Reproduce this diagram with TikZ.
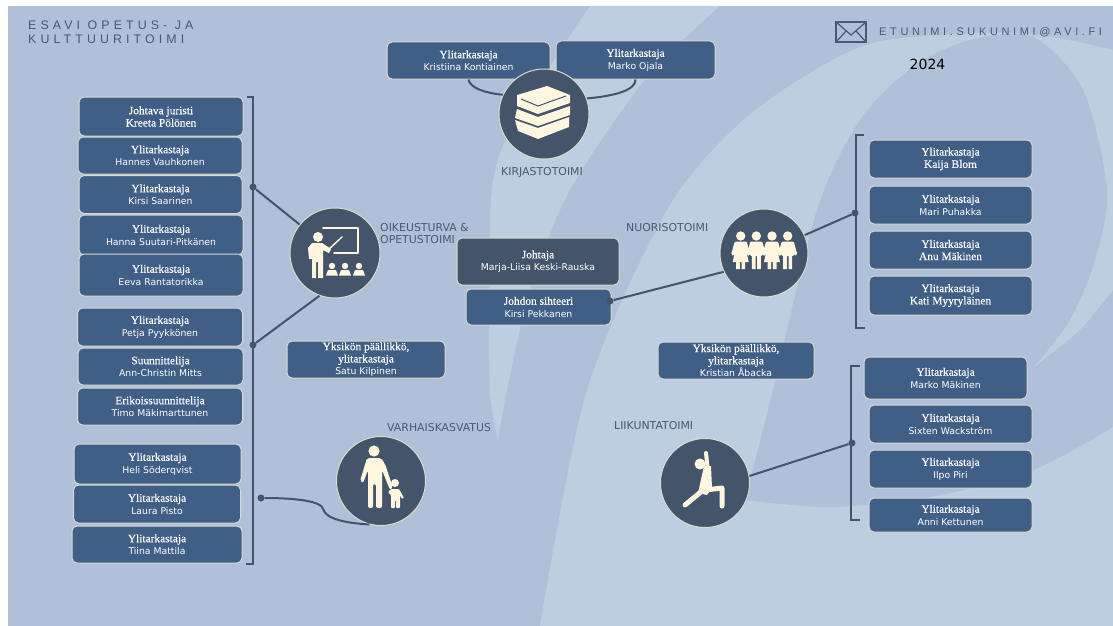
\documentclass[tikz,border=0pt]{standalone}
\usepackage{fontspec}
\setmainfont[FakeBold=0.25]{Liberation Serif}
\newfontfamily\nimifont{DejaVu Sans}
\newfontfamily\otsakefont{Liberation Sans}

\definecolor{pohja}{HTML}{AFC0D8}
\definecolor{vaalea}{HTML}{BDCEE1}
\definecolor{tumma}{HTML}{44546A}
\definecolor{sininen}{HTML}{3F5F86}
\definecolor{reuna}{HTML}{D9DAD0}
\definecolor{kerma}{HTML}{FFF6E0}
\definecolor{harmaa}{HTML}{4B5872}

\newcommand{\nimi}{\nimifont\fontsize{9.3}{12.3}\selectfont}
\newcommand{\sarja}{\fontsize{11.4}{12.3}\selectfont}

\tikzset{
	laatikko/.style 2 args={draw=reuna, fill=sininen, rounded corners=5pt, line width=1pt, inner sep=0pt,
		align=center, text=white, font=\sarja, minimum width=#1pt, minimum height=#2pt},
	ympyra/.style={circle, draw=reuna, fill=tumma, line width=1pt, minimum size=#1pt, inner sep=0pt},
	haara/.style={draw=tumma, line width=2pt},
	piste/.style={circle, fill=tumma, inner sep=0pt, minimum size=7pt},
	otsake/.style={text=harmaa, font=\nimifont\fontsize{10.9}{12.5}\selectfont, align=left, inner sep=0pt},
	kuva/.style={fill=kerma, draw=none},
	viiva/.style={draw=kerma, line cap=round, line join=round}
}

\begin{document}
\begin{tikzpicture}[x=1pt, y=-1pt]
	\useasboundingbox (0,0) rectangle (1113,626);

	% tausta
	\fill[pohja] (8,6) rectangle (1113,626);
	\begin{scope}
		\clip (8,6) rectangle (1113,626);
		\fill[vaalea] plot[smooth] coordinates {(590,6) (500,153) (490,270) (490,390) (498,440)}
			-- plot[smooth] coordinates {(498,440) (507,390) (530,290) (570,190) (647,77) (720,6)} -- cycle;
		\fill[vaalea] plot[smooth] coordinates {(540,626) (587,390) (667,210) (740,123) (820,67) (887,40) (1020,33) (1113,50)}
			-- (1113,626) -- cycle;
		\fill[pohja] plot[smooth] coordinates {(745,500) (773,390) (817,210) (860,120) (913,67) (970,40) (1033,37) (1083,90) (1107,190) (1095,260) (1070,320) (1033,368)}
			-- plot[smooth] coordinates {(1033,368) (1080,330) (1113,290)}
			-- (1113,427) -- plot[smooth] coordinates {(1113,427) (1033,470) (930,497) (830,507) (745,500)} -- cycle;
	\end{scope}

	% otsikot
	\node[anchor=north west, text=harmaa, inner sep=0pt, align=left, font=\otsakefont\addfontfeature{LetterSpace=33}\fontsize{12.4}{14}\selectfont] (yksikko) at (28,21) {ESAVI OPETUS- JA\\KULTTUURITOIMI};
	\node[anchor=west, text=harmaa, inner sep=0pt, font=\otsakefont\addfontfeature{LetterSpace=33}\fontsize{11}{14}\selectfont] (sposti) at (879,32) {ETUNIMI.SUKUNIMI@AVI.FI};
	\node[text=black, inner sep=0pt, font=\nimifont\fontsize{14}{15}\selectfont] (vuosi) at (927.5,64) {2024};
	\draw[harmaa, line width=2pt] (836,22) rectangle (866,42);
	\draw[harmaa, line width=1.2pt] (836,22) -- (851,35) -- (866,22) (836,42) -- (846,31) (866,42) -- (856,31);

	% oikeusturva ja varhaiskasvatus
	\node[laatikko={164}{39}] (polonen) at (161,116.5) {Johtava juristi\\Kreeta Pölönen};
	\node[laatikko={164}{37}] (vauhkonen) at (160,155.5) {Ylitarkastaja\\\nimi Hannes Vauhkonen};
	\node[laatikko={163}{38}] (saarinen) at (160.5,194.5) {Ylitarkastaja\\\nimi Kirsi Saarinen};
	\node[laatikko={164}{40}] (suutari) at (161,235) {Ylitarkastaja\\\nimi Hanna Suutari-Pitkänen};
	\node[laatikko={164}{42}] (rantatorikka) at (161,275) {Ylitarkastaja\\\nimi Eeva Rantatorikka};
	\node[laatikko={165}{38}] (pyykkonen) at (160,327) {Ylitarkastaja\\\nimi Petja Pyykkönen};
	\node[laatikko={165}{37}] (mitts) at (160.5,366.5) {Suunnittelija\\\nimi Ann-Christin Mitts};
	\node[laatikko={165}{37}] (makimarttunen) at (160,406.5) {Erikoissuunnittelija\\\nimi Timo Mäkimarttunen};
	\node[laatikko={167}{40}] (soderqvist) at (157.5,464) {Ylitarkastaja\\\nimi Heli Söderqvist};
	\node[laatikko={167}{38}] (pisto) at (157,504) {Ylitarkastaja\\\nimi Laura Pisto};
	\node[laatikko={170}{37}] (mattila) at (157,544.5) {Ylitarkastaja\\\nimi Tiina Mattila};

	% kirjasto
	\node[laatikko={163}{37}] (kontiainen) at (468.5,60.5) {Ylitarkastaja\\\nimi Kristiina Kontiainen};
	\node[laatikko={159}{38}] (ojala) at (635.5,60) {Ylitarkastaja\\\nimi Marko Ojala};

	% johto
	\node[laatikko={158}{37}] (kilpinen) at (366,359.5) {Yksikön päällikkö,\\ylitarkastaja\\\nimi Satu Kilpinen};
	\node[laatikko={162}{47}, fill=tumma] (keskirauska) at (538,261.5) {Johtaja\\\nimi Marja-Liisa Keski-Rauska};
	\node[laatikko={145}{36}] (pekkanen) at (538.5,307) {Johdon sihteeri\\\nimi Kirsi Pekkanen};
	\node[laatikko={156}{37}] (abacka) at (736,360.5) {Yksikön päällikkö,\\ylitarkastaja\\\nimi Kristian Åbacka};

	% nuoriso ja liikunta
	\node[laatikko={163}{38}] (blom) at (950.5,159) {Ylitarkastaja\\Kaija Blom};
	\node[laatikko={163}{38}] (puhakka) at (950.5,205) {Ylitarkastaja\\\nimi Mari Puhakka};
	\node[laatikko={163}{38}] (makinen) at (950.5,250) {Ylitarkastaja\\Anu Mäkinen};
	\node[laatikko={163}{39}] (myyrylainen) at (950.5,295.5) {Ylitarkastaja\\Kati Myyryläinen};
	\node[laatikko={163}{42}] (makinen2) at (945.5,378) {Ylitarkastaja\\\nimi Marko Mäkinen};
	\node[laatikko={163}{38}] (wackstrom) at (950.5,424) {Ylitarkastaja\\\nimi Sixten Wackström};
	\node[laatikko={163}{38}] (piri) at (950.5,469) {Ylitarkastaja\\\nimi Ilpo Piri};
	\node[laatikko={163}{34}] (kettunen) at (950.5,515) {Ylitarkastaja\\\nimi Anni Kettunen};

	% ympyrat
	\node[ympyra=90] (kirjasto) at (544,114) {};
	\node[ympyra=90] (oikeusturva) at (335,253) {};
	\node[ympyra=88] (nuoriso) at (764,253) {};
	\node[ympyra=89] (varhais) at (381,481) {};
	\node[ympyra=89] (liikunta) at (705,483) {};

	\node[otsake, anchor=north] (kirjastolabel) at (542,167) {KIRJASTOTOIMI};
	\node[otsake, anchor=north west] (oikeuslabel) at (380,223) {OIKEUSTURVA \&\\OPETUSTOIMI};
	\node[otsake, anchor=north west] (nuorisolabel) at (626,223) {NUORISOTOIMI};
	\node[otsake, anchor=north west] (varhaislabel) at (387,423) {VARHAISKASVATUS};
	\node[otsake, anchor=north west] (liikuntalabel) at (614,421) {LIIKUNTATOIMI};

	% sulut ja viivat
	\draw[haara] (247,97) -- (253,97) -- (253,564) -- (246,564);
	\draw[haara] (864,135) -- (856,135) -- (856,328) -- (865,328);
	\draw[haara] (860,366) -- (851,366) -- (851,520) -- (860,520);
	\node[piste] (haara1) at (253,187) {};
	\node[piste] (haara2) at (253,345) {};
	\node[piste] (haara3) at (261,498) {};
	\node[piste] (haara4) at (855,213) {};
	\node[piste] (haara5) at (852,443) {};
	\node[piste] (haara6) at (610,301) {};
	\draw[haara] (haara1) -- (oikeusturva);
	\draw[haara] (haara2) -- (oikeusturva.250);
	\draw[haara] (haara4) -- (nuoriso);
	\draw[haara] (haara6) -- (nuoriso.205);
	\draw[haara] (haara5) -- (liikunta.9);
	\draw[haara] (haara3) .. controls (300,498) and (322,502) .. (323,509) .. controls (326,519) and (345,523) .. (varhais.255);
	\draw[haara] (kontiainen.south) .. controls (470,88) and (485,93) .. (kirjasto.155);
	\draw[haara] (ojala.south) .. controls (636,90) and (615,96) .. (kirjasto.20);

	% kirjat
	\fill[kuva] (517,95) -- (547,86) -- (570,95) -- (570,103) -- (538,114) -- (517,106) -- cycle;
	\fill[kuva] (517,109) -- (538,117) -- (570,106) -- (570,115) -- (538,126) -- (515,118) -- cycle;
	\fill[kuva] (515,120) -- (538,128) -- (569,117) -- (569,127) -- (538,139) -- (518,131) -- cycle;
	\draw[tumma, line width=1pt] (521,99) -- (538,106) -- (566,96);

	% opettaja
	\draw[viiva, line width=2pt] (323,228) -- (358,228) -- (358,253) -- (334,253);
	\draw[viiva, line width=1.5pt] (328,250) -- (342,237);
	\fill[kuva] (318,237) circle (5);
	\fill[kuva] (312,243) -- (322,243) -- (331,249) -- (329,253) -- (323,250) -- (323,278) -- (318,278) -- (318,262) -- (316,262) -- (316,278) -- (312,278) -- (312,259) -- (309,259) -- (308,248) -- cycle;
	\foreach \x in {332,345,359}
		\fill[kuva] (\x,266) circle (3.2) (\x-6,275.5) -- (\x-4,270) -- (\x+4,270) -- (\x+6,275.5) -- cycle;

	% nuoret
	\foreach \x/\hame in {740.7/1,756.3/0,772/1,787.7/0}{
		\fill[kuva] (\x,236) circle (4.7);
		\fill[kuva, rounded corners=2pt] (\x-6.5,241.5) rectangle (\x+6.5,256);
		\fill[kuva] (\x-4.5,254) rectangle (\x-0.8,269) (\x+0.8,254) rectangle (\x+4.5,269);
		\ifnum\hame=1
			\fill[kuva] (\x-5,248) -- (\x+5,248) -- (\x+8,262) -- (\x-8,262) -- cycle;
		\fi
		\draw[viiva, line width=3.2pt] (\x-5,244) -- (\x-7.8,254) (\x+5,244) -- (\x+7.8,254);
	}

	% aikuinen ja lapsi
	\fill[kuva] (374,451) circle (5.6);
	\fill[kuva, rounded corners=2pt] (367,458) -- (381,458) -- (385,464) -- (393,488) -- (390,490) -- (382,470) -- (382,508) -- (376,508) -- (376,484) -- (373,484) -- (373,508) -- (368,508) -- (368,470) -- (363,483) -- (360,481) -- cycle;
	\fill[kuva] (395,483) circle (4);
	\fill[kuva, rounded corners=1pt] (391,489) -- (399,489) -- (404,498) -- (402,499) -- (400,495) -- (400,508) -- (396,508) -- (396,500) -- (395,500) -- (395,508) -- (391,508) -- (391,495) -- (388,492) -- cycle;

	% jooga
	\fill[kuva] (700,464) circle (5.5);
	\draw[viiva, line width=4pt] (706,453) -- (708,472);
	\fill[kuva] (704,466) -- (711,466) -- (712,488) -- (707,495) -- (698,493) -- cycle;
	\draw[viiva, line width=5pt] (702,491) -- (685,505) (705,490) -- (722,488) -- (722,506);
\end{tikzpicture}
\end{document}
